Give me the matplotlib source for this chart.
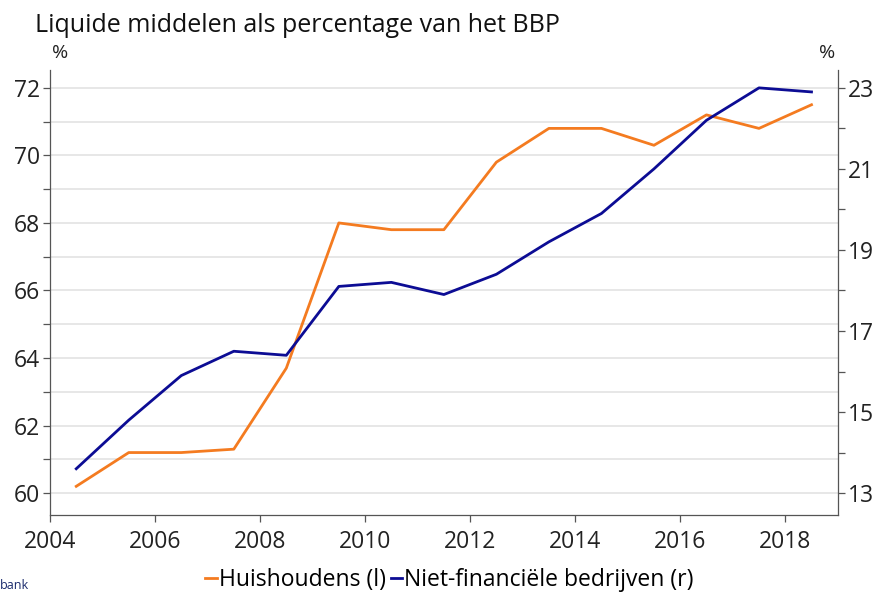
import matplotlib.pyplot as plt
from matplotlib.ticker import MultipleLocator

plt.rcParams['font.family'] = ['Open Sans', 'DejaVu Sans']

# mid-year observations
years = [2004.5, 2005.5, 2006.5, 2007.5, 2008.5, 2009.5, 2010.5, 2011.5,
         2012.5, 2013.5, 2014.5, 2015.5, 2016.5, 2017.5, 2018.5]
huishoudens = [60.2, 61.2, 61.2, 61.3, 63.7, 68.0, 67.8, 67.8,
               69.8, 70.8, 70.8, 70.3, 71.2, 70.8, 71.5]
bedrijven = [13.6, 14.8, 15.9, 16.5, 16.4, 18.1, 18.2, 17.9,
             18.4, 19.2, 19.9, 21.0, 22.2, 23.0, 22.9]

x_ticks = [2004, 2006, 2008, 2010, 2012, 2014, 2016, 2018]
left_ticks = [60, 62, 64, 66, 68, 70, 72]
right_ticks = [13, 15, 17, 19, 21, 23]

ORANGE = '#F47B20'
BLUE = '#0C0C94'
SPINE = '#555555'

fig = plt.figure(figsize=(8.8, 5.93), dpi=100)
ax = fig.add_axes([0.0568, 0.1315, 0.8952, 0.7505])
ax2 = ax.twinx()

l1, = ax.plot(years, huishoudens, color=ORANGE, lw=2.0, label='Huishoudens (l)')
l2, = ax2.plot(years, bedrijven, color=BLUE, lw=2.0, label='Niet-financiële bedrijven (r)')

# left axis 60..72 maps to right axis 13..23
lo, hi = 59.35, 72.53
ax.set_ylim(lo, hi)
ax2.set_ylim(13 + (lo - 60) * 10 / 12, 13 + (hi - 60) * 10 / 12)
ax.set_xlim(2004, 2019)

ax.set_xticks(x_ticks)
ax.set_yticks(left_ticks)
ax.yaxis.set_minor_locator(MultipleLocator(1))
ax2.set_yticks(right_ticks)
ax2.yaxis.set_minor_locator(MultipleLocator(1))

for y in range(60, 73):
    ax.axhline(y, color='#e3e3e3', lw=1.2, zorder=0)

for a in (ax, ax2):
    a.spines['top'].set_visible(False)
    for s in a.spines.values():
        s.set_color(SPINE)
        s.set_linewidth(0.9)
    a.tick_params(which='both', length=5, width=0.9, color=SPINE,
                  labelsize=16.5, labelcolor='#222222', pad=2)
ax.spines['right'].set_visible(False)
ax2.spines['left'].set_visible(False)
ax2.spines['bottom'].set_visible(False)
ax.tick_params(axis='x', pad=6)

fig.text(0.04, 0.957, 'Liquide middelen als percentage van het BBP',
         fontsize=18, color='#111111', va='center')
fig.text(0.068, 0.91, '%', fontsize=14, color='#222222', ha='center', va='center')
fig.text(0.94, 0.91, '%', fontsize=14, color='#222222', ha='center', va='center')
fig.text(0.0, 0.002, 'bank', fontsize=9, color='#1a2a6c', va='bottom')

fig.legend(handles=[l1, l2], loc='center', bbox_to_anchor=(0.511, 0.022),
           ncol=2, frameon=False, fontsize=16.5, handlelength=0.5,
           handletextpad=0.1, columnspacing=0.2, borderpad=0)

fig.savefig('out.png', dpi=100)
